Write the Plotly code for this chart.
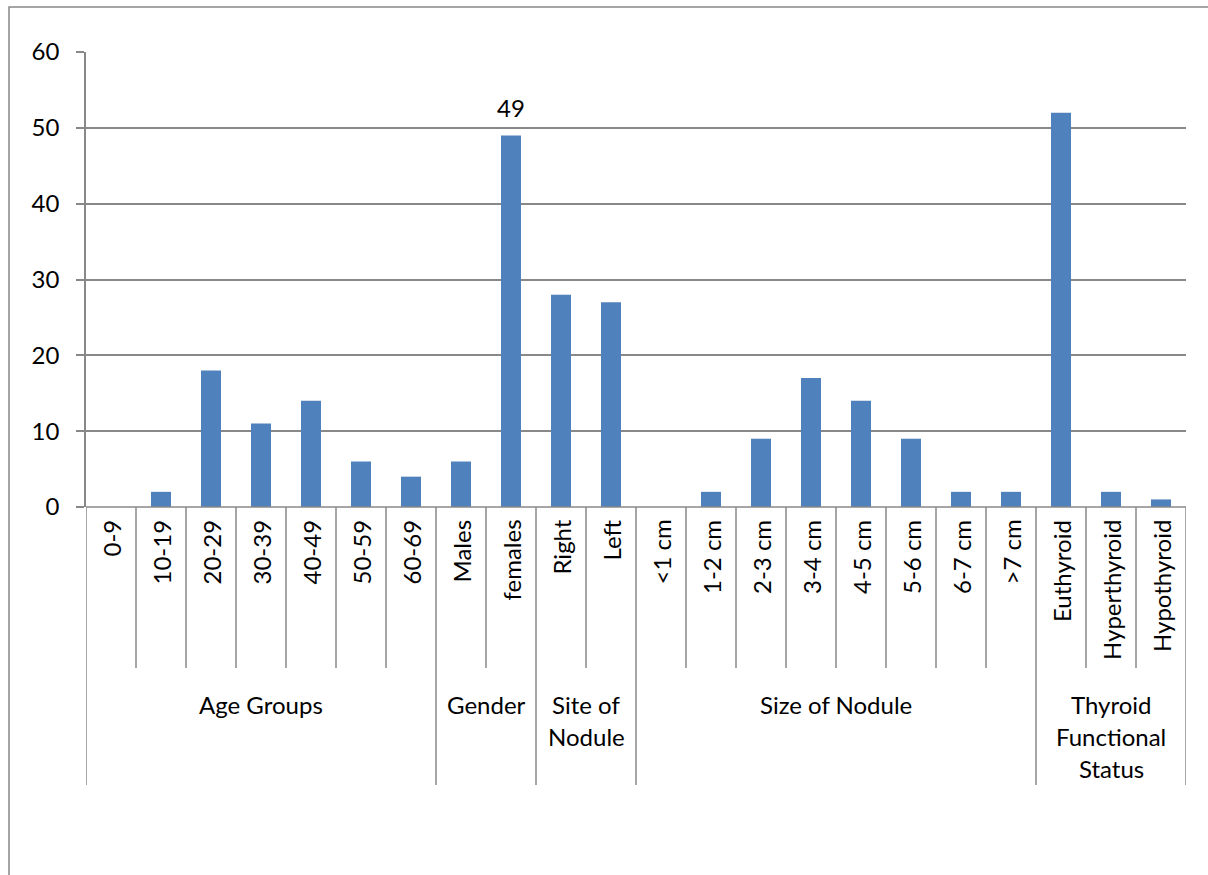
import plotly.graph_objects as go

categories = ["0-9", "10-19", "20-29", "30-39", "40-49", "50-59", "60-69",
              "Males", "females", "Right", "Left",
              "<1 cm", "1-2 cm", "2-3 cm", "3-4 cm", "4-5 cm", "5-6 cm", "6-7 cm", ">7 cm",
              "Euthyroid", "Hyperthyroid", "Hypothyroid"]
values = [0, 2, 18, 11, 14, 6, 4,
          6, 49, 28, 27,
          0, 2, 9, 17, 14, 9, 2, 2,
          52, 2, 1]
group_names = ["Age Groups", "Gender", "Site of<br>Nodule", "Size of Nodule",
               "Thyroid<br>Functional<br>Status"]
group_sizes = [7, 2, 2, 8, 3]
labelled_category = "females"

FONT = "Lato"
FS = 24
GRAY = "#888888"
BAR = "#4F81BD"

# pixel geometry helpers (plot area: x 86..1186, y 52..507)
T, B = 52, 507
H = B - T
def py(pix):
    return (B - pix) / H

fig = go.Figure()
fig.add_trace(go.Bar(x=categories, y=values, marker=dict(color=BAR, line=dict(width=0)),
                     hoverinfo="x+y"))

shapes = []
annotations = []
n = len(categories)
bounds = [0]
for s in group_sizes:
    bounds.append(bounds[-1] + s)
for i in range(n + 1):
    is_group = i in bounds
    shapes.append(dict(type="line", xref="x", yref="paper", x0=i - 0.5, x1=i - 0.5,
                       y0=py(507), y1=py(785 if is_group else 668),
                       line=dict(color=GRAY, width=1.5)))
shapes.append(dict(type="line", xref="paper", yref="paper", x0=0, x1=1, y0=0, y1=0,
                   line=dict(color=GRAY, width=1.5)))
shapes.append(dict(type="rect", xref="paper", yref="paper",
                   x0=(9 - 86) / 1100, x1=(1230 - 86) / 1100,
                   y0=py(7), y1=py(900), line=dict(color=GRAY, width=1.5)))

for c in categories:
    annotations.append(dict(x=c, xref="x", y=py(518), yref="paper", text=c,
                            textangle=-90, xanchor="center", yanchor="top",
                            showarrow=False, font=dict(family=FONT, size=FS, color="black")))

for g, s, b0 in zip(group_names, group_sizes, bounds[:-1]):
    xc = b0 + (s - 1) / 2
    for k, line in enumerate(g.split("<br>")):
        annotations.append(dict(x=xc, xref="x", y=py(704 + 32 * k), yref="paper", text=line,
                                xanchor="center", yanchor="middle", showarrow=False,
                                font=dict(family=FONT, size=FS, color="black")))

li = categories.index(labelled_category)
annotations.append(dict(x=categories[li], xref="x", y=values[li], yref="y",
                        text=str(values[li]), showarrow=False, yanchor="bottom", yshift=11,
                        font=dict(family=FONT, size=FS, color="black")))

fig.update_layout(
    width=1208, height=875,
    margin=dict(l=86, r=22, t=52, b=875 - 507, pad=0),
    paper_bgcolor="white", plot_bgcolor="white",
    bargap=0.6, showlegend=False,
    font=dict(family=FONT, size=FS, color="black"),
    shapes=shapes, annotations=annotations,
    xaxis=dict(showticklabels=False, showgrid=False, zeroline=False, showline=False,
               ticks="", range=[-0.5, n - 0.5]),
    yaxis=dict(range=[0, 60], dtick=10, showgrid=True, gridcolor=GRAY, gridwidth=1.5,
               zeroline=False, showline=True, linecolor=GRAY, linewidth=1.5,
               ticks="outside", ticklen=8, tickcolor=GRAY, tickwidth=1.5,
               tickfont=dict(family=FONT, size=FS, color="black"), ticklabelstandoff=12),
)

fig.write_html("out.html")
